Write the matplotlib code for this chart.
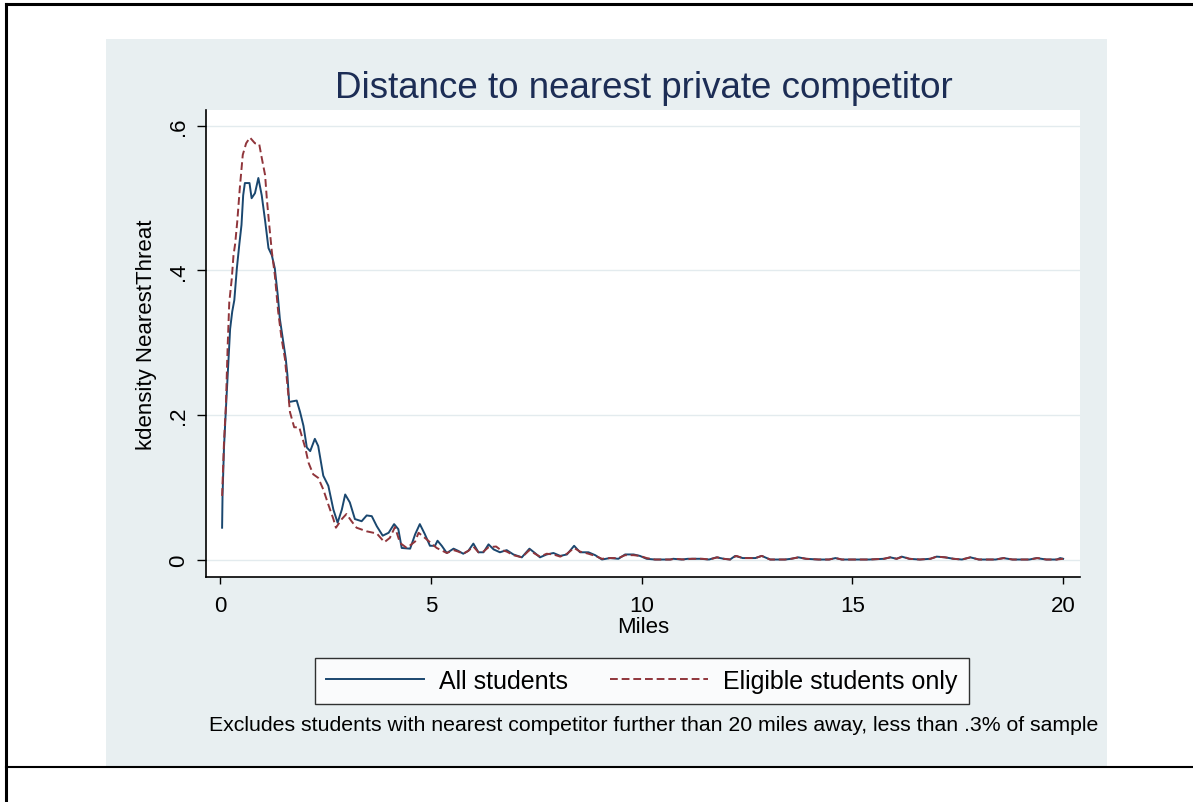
import matplotlib
matplotlib.use("Agg")
import matplotlib.pyplot as plt
from matplotlib.lines import Line2D
from matplotlib.patches import Rectangle

plt.rcParams['font.family'] = ['Liberation Sans', 'DejaVu Sans']

# kdensity, all students
x_all = [0.05, 0.06, 0.095, 0.14, 0.20, 0.24, 0.29, 0.34, 0.40, 0.46, 0.51, 0.55, 0.59, 0.70,
         0.75, 0.83, 0.91, 0.99, 1.07, 1.15, 1.23, 1.30, 1.37, 1.42, 1.49, 1.56, 1.60, 1.64,
         1.82, 1.90, 1.98, 2.06, 2.14, 2.25, 2.33, 2.45, 2.57, 2.69, 2.79, 2.89, 2.97, 3.08,
         3.20, 3.36, 3.48, 3.60, 3.72, 3.86, 4.00, 4.13, 4.23, 4.31, 4.51, 4.63, 4.74, 4.86,
         4.98, 5.10, 5.16, 5.26, 5.38, 5.54, 5.65, 5.77, 5.89, 6.01, 6.13, 6.25, 6.37, 6.49,
         6.64, 6.80, 6.96, 7.16, 7.34, 7.47, 7.59, 7.75, 7.91, 8.07, 8.23, 8.40, 8.54, 8.74,
         8.90, 9.06, 9.25, 9.45, 9.61, 9.81, 9.96, 10.12, 10.32, 10.68, 10.75, 10.95, 11.10,
         11.39, 11.60, 11.78, 11.95, 12.10, 12.22, 12.40, 12.70, 12.85, 13.05, 13.40, 13.55,
         13.72, 13.90, 14.20, 14.45, 14.60, 14.75, 15.00, 15.40, 15.75, 15.90, 16.05, 16.17,
         16.35, 16.60, 16.85, 17.00, 17.20, 17.40, 17.60, 17.80, 18.00, 18.40, 18.58, 18.80,
         19.20, 19.37, 19.60, 19.85, 19.93, 20.00]
y_all = [0.044, 0.088, 0.155, 0.208, 0.273, 0.319, 0.343, 0.359, 0.403, 0.437, 0.463, 0.504, 0.521, 0.521,
         0.500, 0.507, 0.528, 0.504, 0.469, 0.431, 0.421, 0.403, 0.366, 0.333, 0.306, 0.278, 0.255, 0.218,
         0.220, 0.204, 0.185, 0.155, 0.150, 0.167, 0.157, 0.116, 0.102, 0.069, 0.051, 0.069, 0.090, 0.079,
         0.056, 0.053, 0.061, 0.060, 0.046, 0.033, 0.037, 0.049, 0.042, 0.016, 0.015, 0.035, 0.049, 0.035,
         0.019, 0.019, 0.026, 0.019, 0.009, 0.015, 0.012, 0.008, 0.012, 0.022, 0.010, 0.010, 0.021, 0.014,
         0.010, 0.013, 0.007, 0.003, 0.015, 0.009, 0.003, 0.007, 0.009, 0.005, 0.007, 0.019, 0.010, 0.010,
         0.006, 0.000, 0.002, 0.001, 0.007, 0.007, 0.005, 0.001, 0.000, 0.000, 0.001, 0.000, 0.001,
         0.001, 0.000, 0.003, 0.001, 0.000, 0.005, 0.002, 0.002, 0.005, 0.000, 0.000, 0.001,
         0.003, 0.001, 0.000, 0.000, 0.002, 0.000, 0.000, 0.000, 0.001, 0.003, 0.001, 0.004,
         0.001, 0.000, 0.001, 0.004, 0.003, 0.001, 0.000, 0.003, 0.000, 0.000, 0.002, 0.000,
         0.000, 0.002, 0.000, 0.000, 0.002, 0.001]

# kdensity, eligible students only
x_elig = [0.05, 0.095, 0.14, 0.18, 0.22, 0.28, 0.32, 0.36, 0.41, 0.47, 0.54, 0.62, 0.71, 0.83,
          0.93, 0.99, 1.07, 1.11, 1.16, 1.23, 1.30, 1.38, 1.46, 1.54, 1.60, 1.66, 1.76, 1.88,
          2.02, 2.10, 2.21, 2.33, 2.45, 2.57, 2.69, 2.75, 2.89, 3.00, 3.12, 3.24, 3.48, 3.72,
          3.90, 4.03, 4.15, 4.27, 4.43, 4.63, 4.71, 4.90, 5.14, 5.38, 5.54, 5.65, 5.77, 5.89,
          6.01, 6.13, 6.25, 6.37, 6.55, 6.64, 6.80, 6.96, 7.16, 7.34, 7.47, 7.59, 7.75, 7.91,
          8.07, 8.23, 8.40, 8.54, 8.74, 8.90, 9.06, 9.25, 9.45, 9.61, 9.81, 9.96, 10.12, 10.32,
          10.68, 10.80, 11.00, 11.20, 11.45, 11.60, 11.80, 11.95, 12.10, 12.25, 12.40, 12.70,
          12.85, 13.05, 13.40, 13.55, 13.72, 13.90, 14.20, 14.45, 14.60, 14.75, 15.00, 15.40,
          15.75, 15.90, 16.05, 16.20, 16.35, 16.60, 16.85, 17.00, 17.20, 17.40, 17.60, 17.80,
          18.00, 18.40, 18.60, 18.80, 19.20, 19.40, 19.60, 19.85, 20.00]
y_elig = [0.088, 0.162, 0.213, 0.292, 0.356, 0.389, 0.421, 0.437, 0.468, 0.514, 0.560, 0.576, 0.584, 0.576,
          0.575, 0.556, 0.532, 0.500, 0.468, 0.426, 0.394, 0.343, 0.306, 0.278, 0.241, 0.204, 0.183, 0.183,
          0.155, 0.134, 0.118, 0.113, 0.097, 0.076, 0.056, 0.044, 0.056, 0.063, 0.053, 0.044, 0.039, 0.036,
          0.024, 0.030, 0.045, 0.023, 0.016, 0.025, 0.037, 0.028, 0.016, 0.009, 0.013, 0.011, 0.008, 0.012,
          0.018, 0.010, 0.011, 0.017, 0.018, 0.014, 0.011, 0.006, 0.003, 0.013, 0.008, 0.004, 0.008, 0.007,
          0.004, 0.008, 0.016, 0.011, 0.008, 0.005, 0.001, 0.002, 0.002, 0.006, 0.006, 0.005, 0.002, 0.000,
          0.000, 0.001, 0.000, 0.001, 0.001, 0.000, 0.003, 0.001, 0.000, 0.005, 0.002, 0.002,
          0.005, 0.000, 0.000, 0.001, 0.003, 0.001, 0.000, 0.000, 0.002, 0.000, 0.000, 0.000,
          0.001, 0.003, 0.001, 0.004, 0.001, 0.000, 0.001, 0.004, 0.003, 0.001, 0.000, 0.003,
          0.000, 0.000, 0.002, 0.000, 0.000, 0.002, 0.000, 0.000, 0.001]

x_ticks = [0, 5, 10, 15, 20]
y_ticks = [0, 0.2, 0.4, 0.6]
y_ticklabels = ["0", ".2", ".4", ".6"]

navy = "#1a476f"
maroon = "#90353b"
panel = "#e8eff1"

fig = plt.figure(figsize=(11.93, 8.03), dpi=100)

# outer frame lines of the page
fig.add_artist(Line2D([0.005, 0.005], [0, 0.9938], color="black", lw=2.2))
fig.add_artist(Line2D([0.005, 1.0], [0.9938, 0.9938], color="black", lw=2.2))
fig.add_artist(Line2D([0.005, 1.0], [0.0436, 0.0436], color="black", lw=1.5))

# stata graph region
fig.add_artist(Rectangle((0.0889, 0.0448), 0.8391, 0.9054, transform=fig.transFigure,
                         facecolor=panel, edgecolor="none", zorder=0))

ax = fig.add_axes([0.17267, 0.28020, 0.73261, 0.58157])
ax.set_facecolor("white")
ax.plot(x_all, y_all, color=navy, lw=1.4, label="All students")
ax.plot(x_elig, y_elig, color=maroon, lw=1.4, linestyle=(0, (4, 2)),
        label="Eligible students only")

ax.set_xlim(-0.332, 20.40)
ax.set_ylim(-0.0242, 0.6221)
ax.set_xticks(x_ticks)
ax.set_yticks(y_ticks)
ax.set_yticklabels(y_ticklabels, rotation=90, va="center")
ax.grid(axis="y", color="#e3ebee", lw=1.0)
ax.set_axisbelow(True)
for s in ["top", "right"]:
    ax.spines[s].set_visible(False)
for s in ["left", "bottom"]:
    ax.spines[s].set_linewidth(1.2)
ax.tick_params(axis="x", length=5, width=1, pad=8, labelsize=16)
ax.tick_params(axis="y", length=6.5, width=1, pad=6, labelsize=16)

ax.set_xlabel("Miles", fontsize=16, labelpad=0)
ax.set_ylabel("kdensity NearestThreat", fontsize=16)
ax.yaxis.set_label_coords(-0.056, 0.52)

fig.text(0.540, 1 - 88 / 803, "Distance to nearest private competitor", ha="center", va="center",
         fontsize=26.5, color="#1c2d55")

leg = fig.legend(loc="center", bbox_to_anchor=(0.538, 1 - 682 / 803), ncol=2, frameon=True,
                 fancybox=False, edgecolor="black", facecolor="white", fontsize=18,
                 handlelength=3.9, handletextpad=0.6, columnspacing=1.7, borderpad=0.45)
leg.get_frame().set_linewidth(1.0)

fig.text(0.5478, 1 - 726 / 803,
         "Excludes students with nearest competitor further than 20 miles away, less than .3% of sample",
         ha="center", va="center", fontsize=15.3)

fig.savefig("out.png", dpi=100)
